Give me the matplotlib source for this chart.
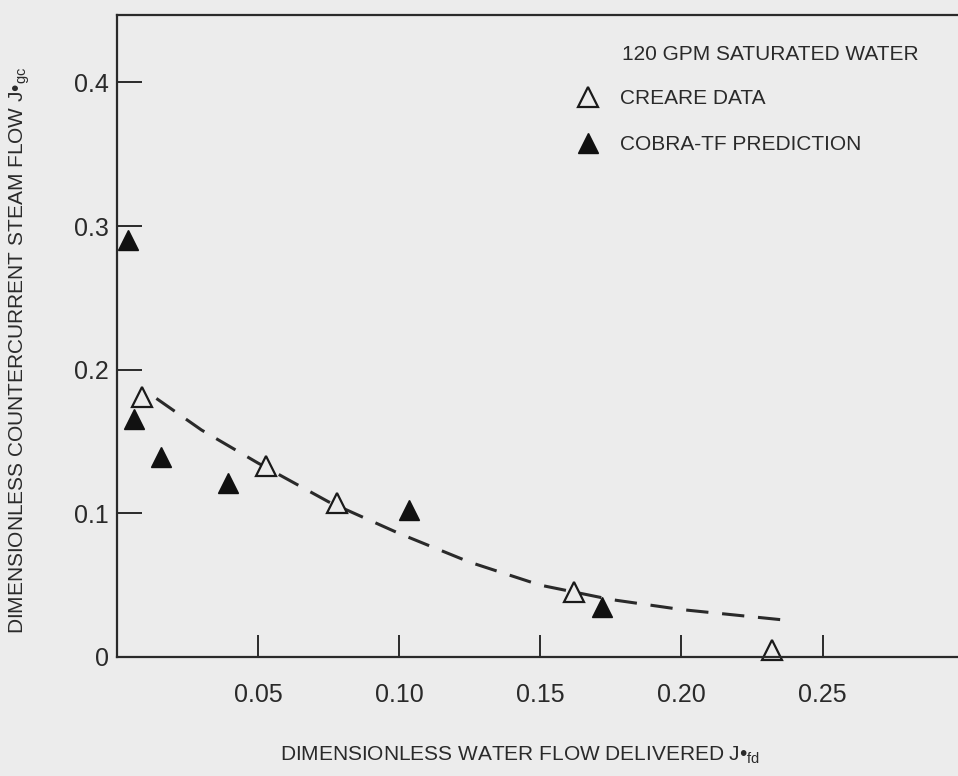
import matplotlib
matplotlib.use("Agg")
from matplotlib import pyplot as plt

# no condensed face installed, Liberation Sans is the narrowest close match
plt.rcParams['font.family'] = ['Liberation Sans', 'DejaVu Sans']
plt.rcParams['mathtext.fontset'] = 'custom'
plt.rcParams['mathtext.rm'] = 'Liberation Sans'
plt.rcParams['mathtext.it'] = 'Liberation Sans'

# CREARE data (open triangles)
creare_x = [0.009, 0.053, 0.078, 0.162, 0.232]
creare_y = [0.181, 0.133, 0.107, 0.045, 0.005]

# COBRA-TF prediction (filled triangles)
cobra_x = [0.004, 0.006, 0.0157, 0.0395, 0.1036, 0.172]
cobra_y = [0.290, 0.166, 0.139, 0.121, 0.102, 0.035]

# dashed fit through the data
fit_x = [0.014, 0.03, 0.05, 0.075, 0.10, 0.125, 0.15, 0.175, 0.20, 0.235]
fit_y = [0.180, 0.158, 0.135, 0.108, 0.086, 0.066, 0.050, 0.040, 0.033, 0.026]

xticks = [0.05, 0.10, 0.15, 0.20, 0.25]
xtick_labels = ['0.05', '0.10', '0.15', '0.20', '0.25']
yticks = [0, 0.1, 0.2, 0.3, 0.4]
ytick_labels = ['0', '0.1', '0.2', '0.3', '0.4']

bg = '#ececec'
ink = '#2a2a2a'

fig = plt.figure(figsize=(9.58, 7.76), dpi=100, facecolor=bg)
ax = fig.add_axes([0.122, 0.1534, 0.881, 0.8273])
ax.set_facecolor(bg)

ax.plot(fit_x, fit_y, color=ink, lw=2.2, dashes=(7.3, 4.5))
ax.plot(creare_x, creare_y, linestyle='none', marker='^', markersize=14,
        markerfacecolor=bg, markeredgecolor='#1a1a1a', markeredgewidth=1.6,
        label='CREARE DATA', clip_on=False)
ax.plot(cobra_x, cobra_y, linestyle='none', marker='^', markersize=14,
        color='#111111', label='COBRA-TF PREDICTION', clip_on=False)

ax.set_xlim(0, 0.299)
ax.set_ylim(0, 0.447)
ax.set_xticks(xticks)
ax.set_xticklabels(xtick_labels)
ax.set_yticks(yticks)
ax.set_yticklabels(ytick_labels)

ax.tick_params(axis='x', direction='in', length=16, width=1.4, pad=19,
               labelsize=18, colors=ink)
ax.tick_params(axis='y', direction='in', length=18, width=1.4, pad=6,
               labelsize=18, colors=ink)
for s in ['left', 'bottom', 'top']:
    ax.spines[s].set_linewidth(1.6)
    ax.spines[s].set_color(ink)
ax.spines['right'].set_visible(False)

# legend block, top right
fig.text(622 / 958, 1 - 54 / 776, '120 GPM SATURATED WATER',
         fontsize=15, color=ink, va='center', ha='left')
leg = ax.legend(loc='upper left', bbox_to_anchor=(0.535, 0.897), frameon=False,
                fontsize=15, handlelength=1.1, handletextpad=1.0,
                labelspacing=1.28, borderaxespad=0)
for t in leg.get_texts():
    t.set_color(ink)

fig.text(7 / 958, 1 - 634 / 776,
         r'DIMENSIONLESS COUNTERCURRENT STEAM FLOW J•$_{\mathrm{gc}}$',
         rotation=90, ha='left', va='bottom', fontsize=15, color=ink)
fig.text(520 / 958, 1 - 755 / 776,
         r'DIMENSIONLESS WATER FLOW DELIVERED J•$_{\mathrm{fd}}$',
         ha='center', va='center', fontsize=15, color=ink)

plt.savefig('out.png', dpi=100, facecolor=bg)
